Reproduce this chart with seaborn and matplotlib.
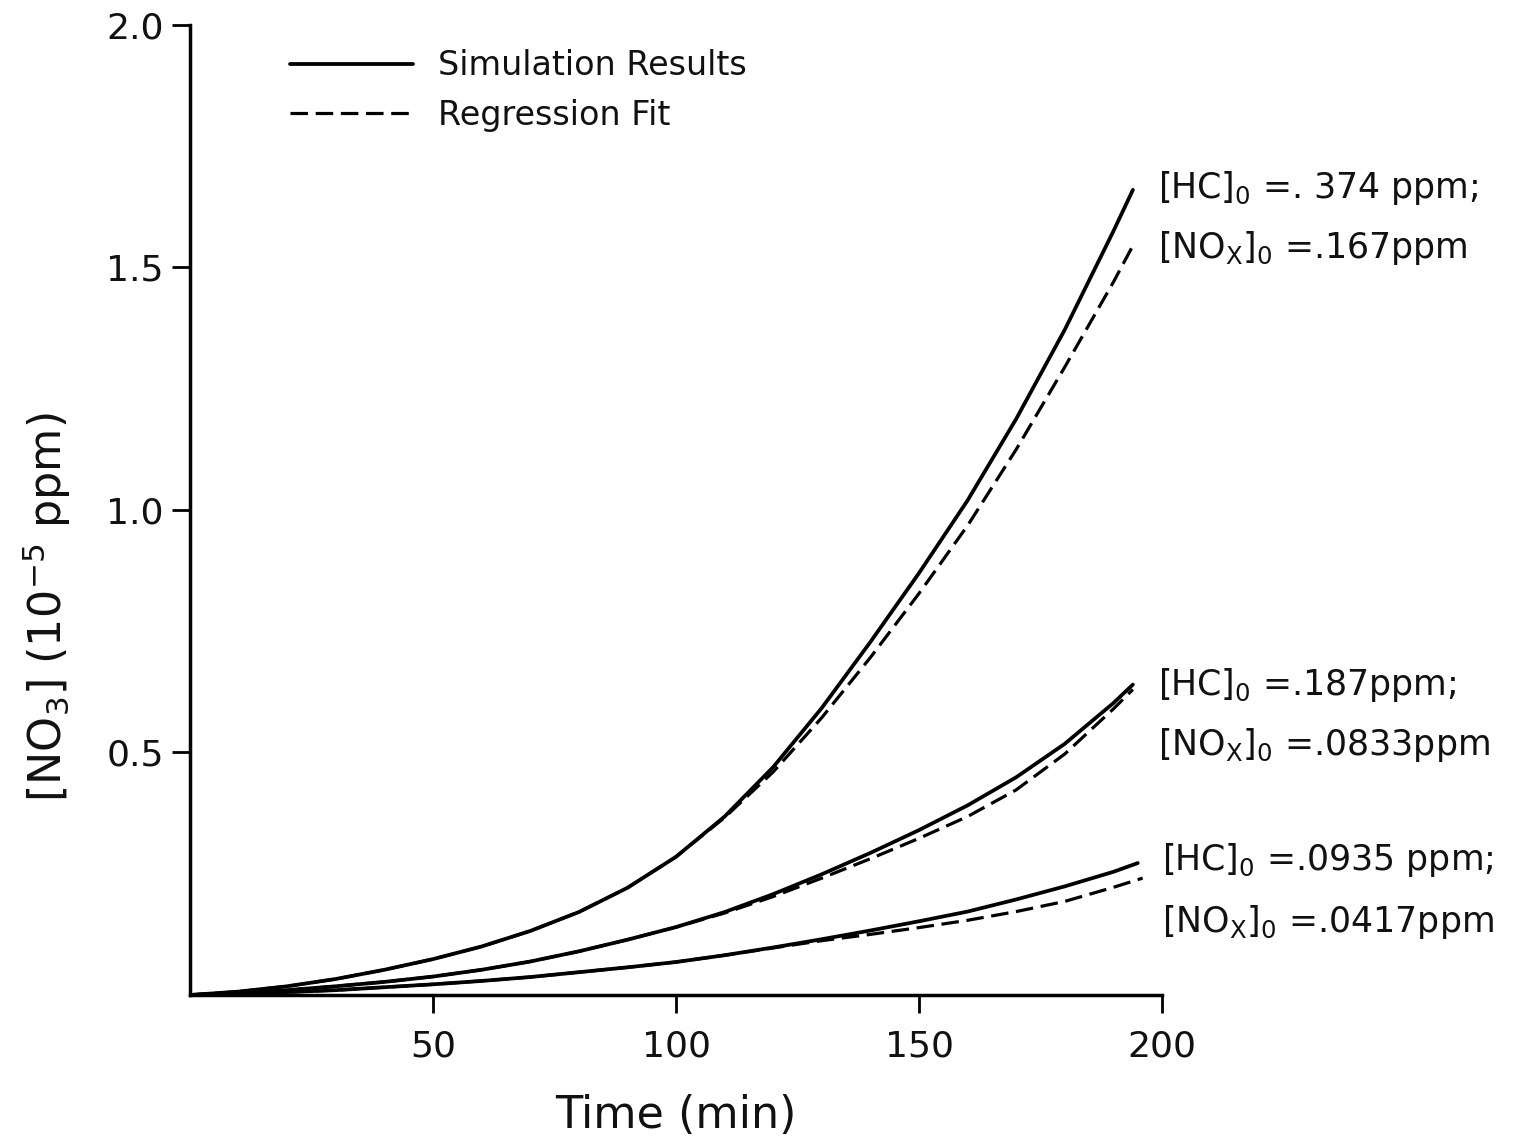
import numpy as np
import pandas as pd
import matplotlib
matplotlib.use("Agg")
import matplotlib.pyplot as plt
import seaborn as sns

# ---------------- data ----------------
time_sim = [0, 10, 20, 30, 40, 50, 60, 70, 80, 90, 100, 110, 120, 130, 140,
            150, 160, 170, 180, 190, 194]

sim_374 = [0, 0.007, 0.018, 0.033, 0.052, 0.074, 0.100, 0.132, 0.171, 0.221,
           0.285, 0.368, 0.470, 0.592, 0.728, 0.870, 1.020, 1.188, 1.372,
           1.575, 1.660]
fit_374 = [0, 0.007, 0.018, 0.033, 0.052, 0.074, 0.100, 0.132, 0.171, 0.221,
           0.285, 0.366, 0.460, 0.572, 0.696, 0.828, 0.968, 1.125, 1.295,
           1.470, 1.545]

sim_187 = [0, 0.004, 0.010, 0.018, 0.027, 0.038, 0.052, 0.069, 0.090, 0.114,
           0.140, 0.171, 0.208, 0.249, 0.293, 0.340, 0.391, 0.449, 0.518,
           0.602, 0.640]
fit_187 = [0, 0.004, 0.010, 0.018, 0.027, 0.038, 0.052, 0.069, 0.090, 0.114,
           0.140, 0.169, 0.203, 0.241, 0.281, 0.323, 0.368, 0.423, 0.497,
           0.590, 0.630]

time_low = [0, 10, 20, 30, 40, 50, 60, 70, 80, 90, 100, 110, 120, 130, 140,
            150, 160, 170, 180, 190, 195]
sim_0935 = [0, 0.002, 0.006, 0.010, 0.016, 0.022, 0.029, 0.037, 0.047, 0.057,
            0.068, 0.082, 0.098, 0.115, 0.133, 0.152, 0.172, 0.197, 0.224,
            0.254, 0.272]
time_low_fit = [0, 10, 20, 30, 40, 50, 60, 70, 80, 90, 100, 110, 120, 130, 140,
                150, 160, 170, 180, 190, 196]
fit_0935 = [0, 0.002, 0.006, 0.010, 0.016, 0.022, 0.029, 0.037, 0.047, 0.057,
            0.068, 0.082, 0.097, 0.112, 0.125, 0.139, 0.154, 0.172, 0.193,
            0.222, 0.241]

case_labels = [
    ("[HC]$_0$ =. 374 ppm;", "[NO$_X$]$_0$ =.167ppm"),
    ("[HC]$_0$ =.187ppm;", "[NO$_X$]$_0$ =.0833ppm"),
    ("[HC]$_0$ =.0935 ppm;", "[NO$_X$]$_0$ =.0417ppm"),
]
label_y = [(1.664, 1.54), (0.639, 0.515), (0.278, 0.15)]
label_x = [199.2, 199.2, 200.0]

xticks = [50, 100, 150, 200]
yticks = [0.5, 1.0, 1.5, 2.0]
ytick_labels = ["0.5", "1.0", "1.5", "2.0"]

# ---------------- plotting ----------------
sns.set_theme(style="ticks")
plt.rcParams["font.family"] = ["DejaVu Sans"]
plt.rcParams["mathtext.default"] = "regular"

fig = plt.figure(figsize=(15.24, 11.40), dpi=100)
ax = fig.add_axes([0.1247, 0.1272, 0.6378, 0.8509])

lw = 2.7
dash = (5.5, 2.4)

series = [
    (time_sim, sim_374, time_sim, fit_374),
    (time_sim, sim_187, time_sim, fit_187),
    (time_low, sim_0935, time_low_fit, fit_0935),
]
for i, (ts, ys, tf, yf) in enumerate(series):
    sns.lineplot(x=ts, y=ys, ax=ax, color="black", linewidth=lw,
                 label="Simulation Results" if i == 0 else None,
                 estimator=None, sort=False)
    sns.lineplot(x=tf, y=yf, ax=ax, color="black", linewidth=lw * 0.85,
                 estimator=None, sort=False,
                 label="Regression Fit" if i == 0 else None)
    ax.lines[-1].set_dashes(dash)

ax.set_xlim(0, 200)
ax.set_ylim(0, 2.0)
ax.set_xticks(xticks)
ax.set_xticklabels([str(t) for t in xticks])
ax.set_yticks(yticks)
ax.set_yticklabels(ytick_labels)
ax.tick_params(axis="both", direction="out", length=13, width=2,
               labelsize=26, color="black", labelcolor="#111111")
ax.tick_params(axis="x", pad=12)
ax.tick_params(axis="y", pad=6)

for side in ["top", "right"]:
    ax.spines[side].set_visible(False)
for side in ["left", "bottom"]:
    ax.spines[side].set_linewidth(2.5)
    ax.spines[side].set_color("black")

ax.set_xlabel("Time (min)", fontsize=32, color="#111111")
ax.xaxis.set_label_coords(0.5, -0.102)
ax.set_ylabel("[NO$_3$] (10$^{-5}$ ppm)", fontsize=32, color="#111111")
ax.yaxis.set_label_coords(-0.12, 0.40)

for (l1, l2), (y1, y2), xx in zip(case_labels, label_y, label_x):
    ax.text(xx, y1, l1, fontsize=25, va="center", ha="left",
            color="#111111", clip_on=False)
    ax.text(xx, y2, l2, fontsize=25, va="center", ha="left",
            color="#111111", clip_on=False)

handles, labels = ax.get_legend_handles_labels()
leg = ax.legend(handles, labels, loc="upper left",
                bbox_to_anchor=(0.103, 0.975), frameon=False,
                fontsize=24, handlelength=3.7, handletextpad=0.75,
                labelspacing=0.5, borderpad=0, borderaxespad=0)
for t in leg.get_texts():
    t.set_color("#111111")

fig.savefig("out.png", dpi=100, facecolor="white")
